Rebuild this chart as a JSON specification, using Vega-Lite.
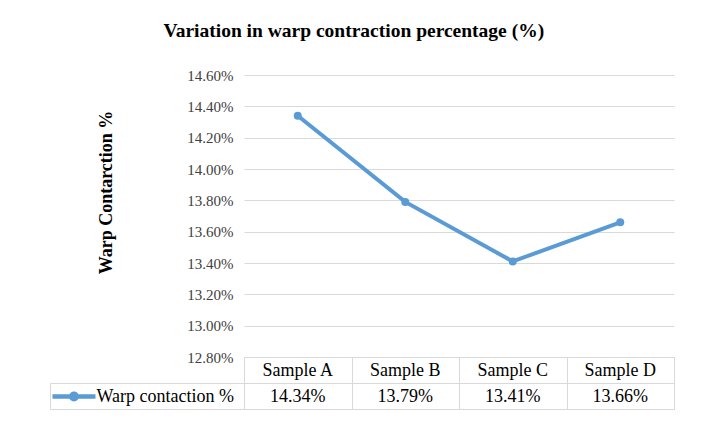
{
  "$schema": "https://vega.github.io/schema/vega-lite/v6.json",
  "padding": {"left": 49, "top": 20, "right": 5, "bottom": 5},
  "background": "white",
  "title": {
    "text": "Variation in warp  contraction percentage (%)",
    "font": "Liberation Serif",
    "fontSize": 19.5,
    "fontWeight": "bold",
    "color": "black",
    "anchor": "middle",
    "frame": "bounds",
    "offset": 27,
    "dx": -8
  },
  "datasets": {
    "main": [
      {"sample": "Sample A", "series": "Warp contaction %", "value": 0.1434},
      {"sample": "Sample B", "series": "Warp contaction %", "value": 0.1379},
      {"sample": "Sample C", "series": "Warp contaction %", "value": 0.1341},
      {"sample": "Sample D", "series": "Warp contaction %", "value": 0.1366}
    ]
  },
  "spacing": 0,
  "bounds": "flush",
  "vconcat": [
    {
      "width": 430,
      "height": 282,
      "data": {"name": "main"},
      "view": {"stroke": null},
      "mark": {"type": "line", "strokeWidth": 4, "point": {"size": 64, "filled": true}},
      "encoding": {
        "x": {
          "field": "sample", "type": "nominal", "sort": null,
          "scale": {"type": "band", "paddingInner": 0, "paddingOuter": 0},
          "axis": null
        },
        "y": {
          "field": "value", "type": "quantitative",
          "scale": {"domain": [0.128, 0.146], "nice": false, "zero": false},
          "axis": {
            "values": [0.128, 0.13, 0.132, 0.134, 0.136, 0.138, 0.14, 0.142, 0.144, 0.146],
            "format": ".2%",
            "domain": false,
            "ticks": false,
            "grid": true,
            "gridColor": "#d9d9d9",
            "gridWidth": 1,
            "labelFont": "Liberation Serif",
            "labelFontSize": 15,
            "labelColor": "#404040",
            "labelPadding": 11,
            "title": "Warp Contarction %",
            "titleFont": "Liberation Serif",
            "titleFontSize": 18,
            "titleFontWeight": "bold",
            "titleColor": "black",
            "titleX": -138,
            "titleY": 117,
            "titleAngle": -90,
            "titleBaseline": "middle",
            "titleAlign": "center"
          }
        },
        "color": {
          "field": "series", "type": "nominal",
          "scale": {"range": ["#5b9bd5"]},
          "legend": {
            "title": null,
            "orient": "none",
            "legendX": -191.5,
            "legendY": 300,
            "padding": 0,
            "labelFont": "Liberation Serif",
            "labelFontSize": 18,
            "labelColor": "black",
            "labelOffset": 1,
            "labelLimit": 0,
            "symbolType": "M-1,-0.1H1V0.1H-1Z M-0.23,0A0.23,0.23 0 1,1 0.23,0A0.23,0.23 0 1,1 -0.23,0Z",
            "symbolSize": 1849,
            "symbolStrokeWidth": 0,
            "symbolFillColor": "#5b9bd5",
            "encode": {
              "symbols": {
                "update": {
                  "fill": {"value": "#5b9bd5"},
                  "strokeWidth": {"value": 0},
                  "opacity": {"value": 1},
                  "shape": {"value": "M-1,-0.1H1V0.1H-1Z M-0.23,0A0.23,0.23 0 1,1 0.23,0A0.23,0.23 0 1,1 -0.23,0Z"},
                  "size": {"value": 1849}
                }
              }
            }
          }
        }
      }
    },
    {
      "width": 430,
      "height": 26,
      "data": {"name": "main"},
      "view": {"stroke": "#d9d9d9"},
      "mark": {"type": "text", "font": "Liberation Serif", "fontSize": 18, "color": "black", "baseline": "middle", "dy": 1},
      "encoding": {
        "x": {
          "field": "sample", "type": "nominal", "sort": null,
          "scale": {"type": "band", "paddingInner": 0, "paddingOuter": 0},
          "axis": {"labels": false, "ticks": false, "domain": false, "grid": true, "tickBand": "extent", "gridColor": "#d9d9d9", "title": null}
        },
        "text": {"field": "sample"}
      }
    },
    {
      "width": 430,
      "height": 26,
      "data": {"name": "main"},
      "view": {"stroke": "#d9d9d9"},
      "mark": {"type": "text", "font": "Liberation Serif", "fontSize": 18, "color": "black", "baseline": "middle", "dy": 1},
      "encoding": {
        "x": {
          "field": "sample", "type": "nominal", "sort": null,
          "scale": {"type": "band", "paddingInner": 0, "paddingOuter": 0},
          "axis": {"labels": false, "ticks": false, "domain": false, "grid": true, "tickBand": "extent", "gridColor": "#d9d9d9", "title": null}
        },
        "y": {
          "field": "series", "type": "nominal",
          "scale": {"type": "band", "paddingInner": 0, "paddingOuter": 0},
          "axis": {"orient": "left", "offset": 194, "tickBand": "extent", "tickSize": -194, "tickColor": "#d9d9d9", "domainColor": "#d9d9d9", "labels": false, "title": null, "ticks": true, "grid": false}
        },
        "text": {"field": "value", "type": "quantitative", "format": ".2%"}
      }
    }
  ]
}
